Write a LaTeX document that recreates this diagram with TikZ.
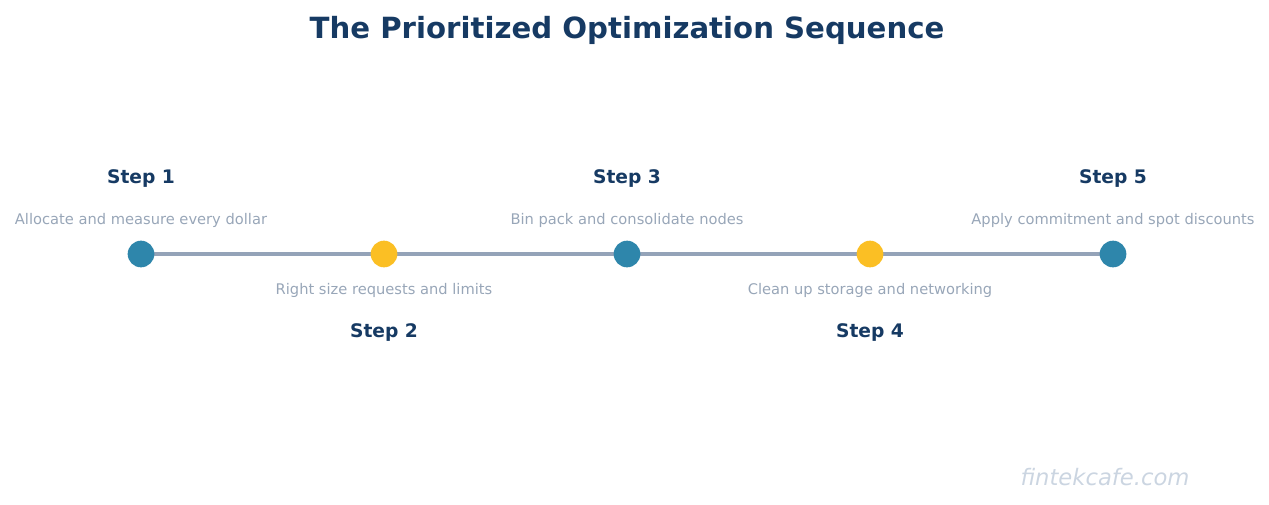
\documentclass[tikz,border=0pt]{standalone}
\usepackage{fontspec}
\setmainfont{DejaVu Sans}
\definecolor{navy}{HTML}{163A63}
\definecolor{desc}{HTML}{98A6B8}
\definecolor{lineg}{HTML}{94A3B8}
\definecolor{blue}{HTML}{2E86AB}
\definecolor{yel}{HTML}{FBBF24}
\definecolor{wm}{HTML}{CBD5E1}
\begin{document}
\begin{tikzpicture}[x=0.75pt,y=-0.75pt,
 dot/.style={circle,inner sep=0pt,minimum size=20pt},
 steplbl/.style={font=\bfseries\fontsize{14}{16}\selectfont,text=navy},
 desclbl/.style={font=\fontsize{11}{13}\selectfont,text=desc}]
\useasboundingbox (0,0) rectangle (1269,504);
\node[font=\bfseries\fontsize{21.9}{25}\selectfont,text=navy] (title) at (627,30) {The Prioritized Optimization Sequence};
\node[dot] (d1) at (141,254) {};
\node[dot] (d2) at (384,254) {};
\node[dot] (d3) at (627,254) {};
\node[dot] (d4) at (870,254) {};
\node[dot] (d5) at (1113,254) {};
\draw[lineg,line width=3pt] (d1.center) -- (d2.center) -- (d3.center) -- (d4.center) -- (d5.center);
\foreach \n/\c in {d1/blue,d2/yel,d3/blue,d4/yel,d5/blue} \fill[\c] (\n) circle (10pt);
\node[steplbl] (s1) at (141,179) {Step 1};
\node[desclbl] (t1) at (141,220) {Allocate and measure every dollar};
\node[desclbl] (t2) at (384,290) {Right size requests and limits};
\node[steplbl] (s2) at (384,333) {Step 2};
\node[steplbl] (s3) at (627,179) {Step 3};
\node[desclbl] (t3) at (627,220) {Bin pack and consolidate nodes};
\node[desclbl] (t4) at (870,290) {Clean up storage and networking};
\node[steplbl] (s4) at (870,333) {Step 4};
\node[steplbl] (s5) at (1113,179) {Step 5};
\node[desclbl] (t5) at (1113,220) {Apply commitment and spot discounts};
\node[font=\itshape\fontsize{17}{19}\selectfont,text=wm] (wm) at (1105,477) {fintekcafe.com};
\end{tikzpicture}
\end{document}
